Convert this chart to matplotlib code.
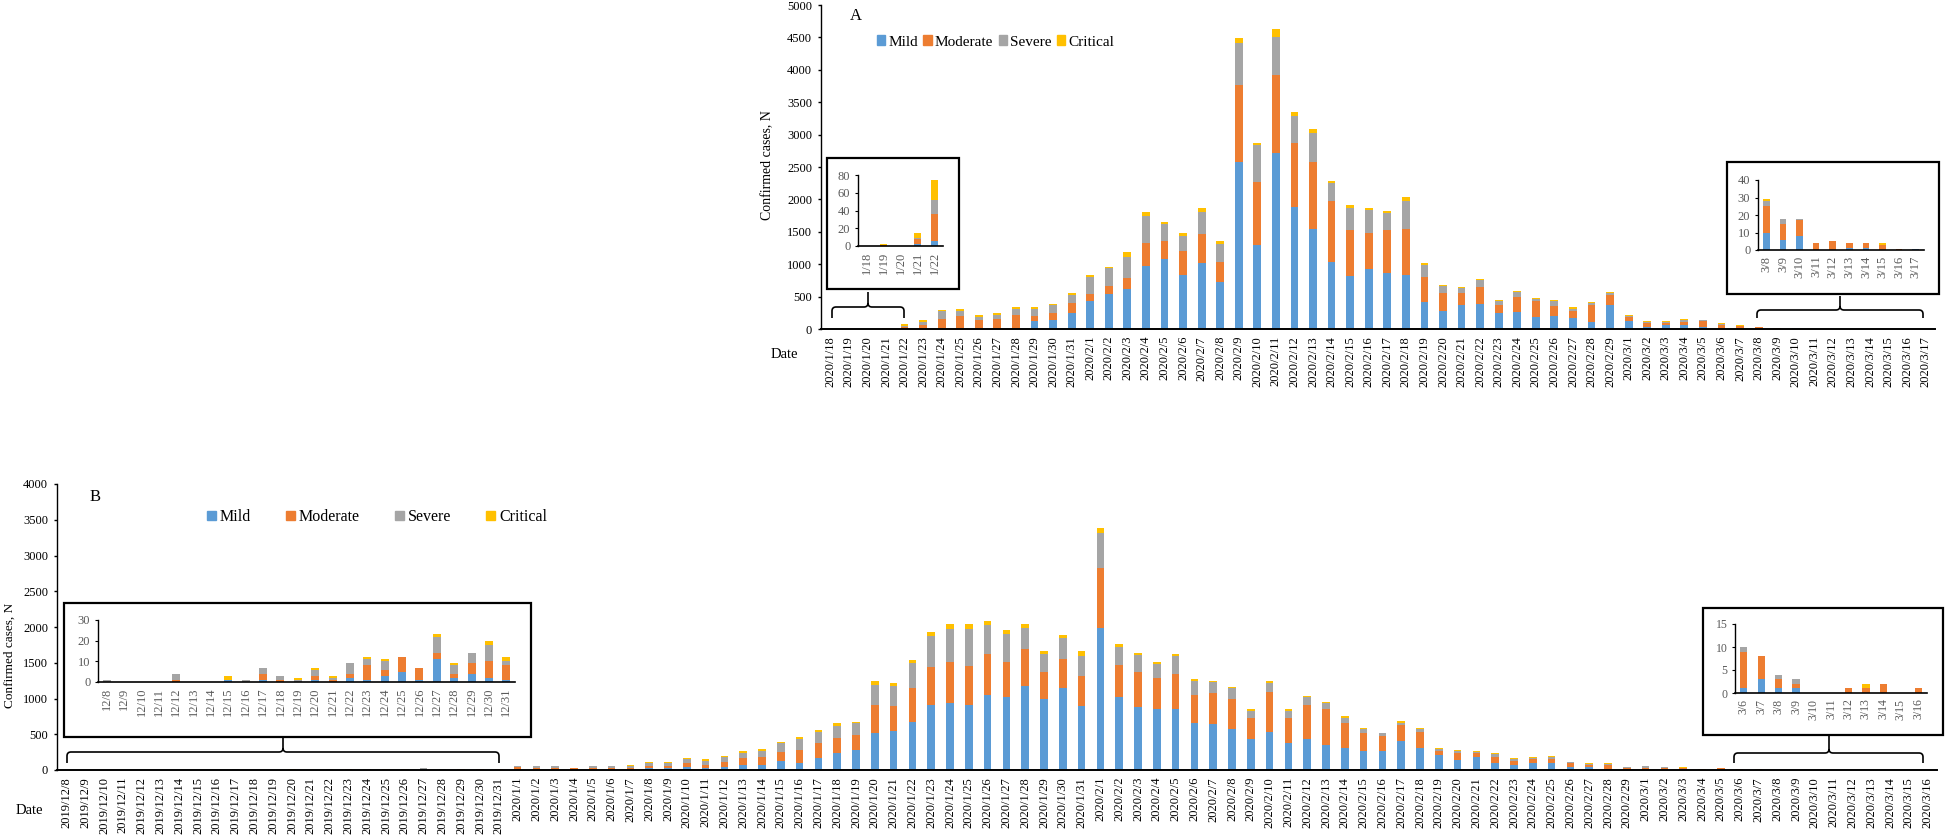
import matplotlib
matplotlib.use("Agg")
import matplotlib.pyplot as plt
import matplotlib.patches as mpatches
from matplotlib.path import Path
import pandas as pd

plt.rcParams['font.family'] = ['Liberation Serif', 'DejaVu Serif']

W, H = 1946, 839
COLORS = ['#5B9BD5', '#ED7D31', '#A5A5A5', '#FFC000']
NAMES = ['Mild', 'Moderate', 'Severe', 'Critical']
INSET_GRAY = '#595959'

# ---- panel A: 2020/1/18 - 2020/3/17 ----
dates_a = pd.date_range('2020-01-18', '2020-03-17')
labels_a = [f"{d.year}/{d.month}/{d.day}" for d in dates_a]
short_a = [f"{d.month}/{d.day}" for d in dates_a]
mild_a = [0, 0, 0, 2, 6, 5, 5, 5, 5, 5, 5, 129, 144, 247,
          437, 535, 617, 967, 1075, 828, 1013, 730, 2577, 1301, 2716, 1878, 1543, 1034, 823, 921,
          859, 838, 422, 283, 376, 391, 242, 257, 190, 206, 170, 103, 370,
          120, 31, 57, 67, 31, 15, 8, 10, 6, 8, 0, 0, 1, 1, 0, 0, 0.5]
moderate_a = [0, 1, 0, 6, 30, 62, 154, 195, 129, 149, 216, 77, 108, 149,
              98, 134, 165, 365, 283, 371, 448, 304, 1183, 973, 1204, 997, 1034, 941, 710, 566,
              669, 710, 386, 273, 174, 252, 123, 242, 242, 144, 103, 273, 155,
              60, 62, 36, 46, 98, 47, 33, 15, 9, 9, 4, 5, 3, 3, 3, 0.5, 0]
severe_a = [0, 0, 0, 1, 16, 46, 114, 78, 56, 57, 88, 108, 113, 124,
            262, 267, 334, 407, 257, 231, 339, 283, 659, 560, 581, 417, 442, 283, 329, 355,
            267, 432, 185, 113, 83, 118, 62, 67, 31, 87, 41, 30, 31,
            25, 20, 20, 31, 5, 15, 12, 3, 3, 1, 0, 0, 0, 0, 0, 0, 0]
critical_a = [0, 1, 0, 6, 22, 31, 15, 36, 26, 31, 31, 20, 16, 30,
              41, 26, 72, 61, 41, 46, 67, 41, 67, 41, 123, 62, 73, 21, 57, 30,
              21, 57, 31, 15, 15, 11, 15, 15, 15, 16, 20, 16, 20,
              6, 15, 16, 15, 10, 10, 10, 1, 0, 0, 0, 0, 0, 0, 1, 0, 0]

# ---- panel B: 2019/12/8 - 2020/3/16 ----
dates_b = pd.date_range('2019-12-08', '2020-03-16')
labels_b = [f"{d.year}/{d.month}/{d.day}" for d in dates_b]
short_b = [f"{d.month}/{d.day}" for d in dates_b]
mild_b = [0, 0, 0, 0, 0, 0, 0, 1, 0, 1, 0, 0, 1, 0, 2, 1, 3, 5, 1, 11, 2, 4, 2, 1,
          5, 5, 5, 3, 5, 5, 5, 23, 23, 37, 28, 37, 74, 74, 121, 102, 172, 237, 284,
          521, 549, 674, 907, 939, 911, 1046, 1018, 1181, 990, 1144, 902,
          1986, 1018, 884, 856, 856, 651, 637, 572, 437, 535, 372, 428, 353, 302, 260,
          270, 409, 302, 209, 144, 186, 102, 65, 98, 102, 47, 42, 19, 12,
          15, 10, 8, 3, 3, 1, 3, 1, 1, 0, 0, 0, 0, 0, 0, 0]
moderate_b = [0, 0, 0, 0, 1, 0, 0, 0, 0, 3, 1, 0, 2, 1, 2, 7, 3, 7, 6, 3, 2, 5, 8, 7,
              30, 25, 25, 20, 20, 20, 25, 28, 28, 56, 46, 75, 98, 103, 125, 182, 200, 209, 204,
              390, 353, 479, 530, 568, 549, 577, 498, 507, 386, 404, 419,
              846, 447, 488, 437, 493, 395, 433, 428, 288, 562, 353, 479, 507, 349, 261,
              209, 214, 233, 56, 98, 51, 84, 61, 60, 51, 55, 28, 46, 18,
              15, 15, 20, 14, 18, 8, 5, 2, 1, 0, 0, 1, 1, 2, 0, 1]
severe_b = [1, 0, 0, 0, 3, 0, 0, 0, 1, 3, 2, 1, 3, 1, 5, 3, 4, 0, 0, 8, 4, 5, 8, 2,
            20, 20, 20, 5, 25, 25, 28, 42, 42, 60, 56, 69, 70, 93, 126, 148, 158, 163, 163,
            279, 279, 344, 442, 465, 512, 400, 386, 298, 247, 293, 274,
            488, 256, 237, 186, 246, 196, 158, 144, 107, 121, 107, 111, 75, 74, 46,
            33, 37, 32, 28, 23, 19, 32, 32, 14, 33, 10, 18, 19, 10,
            25, 15, 5, 2, 2, 1, 0, 1, 1, 0, 0, 0, 0, 0, 0, 0]
critical_b = [0, 0, 0, 0, 0, 0, 0, 2, 0, 0, 0, 1, 1, 1, 0, 1, 1, 0, 0, 1, 1, 0, 2, 2,
              5, 5, 8, 5, 10, 6, 7, 14, 14, 14, 23, 19, 23, 23, 19, 28, 33, 42, 23,
              52, 37, 47, 51, 65, 65, 60, 56, 60, 42, 47, 70,
              61, 46, 33, 32, 28, 27, 23, 14, 19, 24, 19, 14, 18, 24, 14,
              9, 19, 14, 14, 14, 14, 14, 9, 14, 5, 3, 10, 9, 5,
              3, 5, 15, 0, 0, 0, 0, 0, 0, 0, 0, 0, 1, 0, 0, 0]


def rect(x0, y0, x1, y1):
    return [x0 / W, 1 - y1 / H, (x1 - x0) / W, (y1 - y0) / H]


def stacked(ax, series, width):
    x = range(len(series[0]))
    bottom = [0] * len(series[0])
    for vals, c in zip(series, COLORS):
        ax.bar(x, vals, width, bottom=bottom, color=c, linewidth=0)
        bottom = [b + v for b, v in zip(bottom, vals)]


def style_main(ax, labels, ymax, step):
    for s in ['top', 'right']:
        ax.spines[s].set_visible(False)
    ax.spines['left'].set_linewidth(1.0)
    ax.spines['bottom'].set_linewidth(1.4)
    ax.set_xlim(-0.5, len(labels) - 0.5)
    ax.set_ylim(0, ymax)
    ax.set_yticks(range(0, ymax + 1, step))
    ax.set_xticks(range(len(labels)))
    ax.set_xticklabels(labels, rotation=90, fontsize=9)
    ax.tick_params(axis='x', length=0, pad=5)
    ax.tick_params(axis='y', length=2.5, width=1, labelsize=9, pad=4)


def inset(box, inner, series, labels, ymax, step, width, fs=8.5):
    x0, y0, x1, y1 = box
    fig.add_artist(mpatches.Rectangle((x0 / W, 1 - y1 / H), (x1 - x0) / W, (y1 - y0) / H,
                                      transform=fig.transFigure, facecolor='white',
                                      edgecolor='black', linewidth=1.6, zorder=2))
    ax = fig.add_axes(rect(*inner), zorder=3)
    ax.patch.set_alpha(0)
    stacked(ax, series, width)
    for s in ['top', 'right']:
        ax.spines[s].set_visible(False)
    ax.spines['left'].set_linewidth(1.0)
    ax.spines['bottom'].set_linewidth(1.2)
    ax.set_xlim(-0.5, len(labels) - 0.5)
    ax.set_ylim(0, ymax)
    ax.set_yticks(range(0, ymax + 1, step))
    ax.set_xticks(range(len(labels)))
    ax.set_xticklabels(labels, rotation=90)
    ax.tick_params(axis='x', length=0, pad=4, labelsize=fs, labelcolor=INSET_GRAY)
    ax.tick_params(axis='y', length=2.5, pad=3, labelsize=fs, labelcolor=INSET_GRAY)
    return ax


def bracket(x0, x1, xm, y_end, y_line, y_tip, r=4):
    pts = [(x0, y_end), (x0, y_line + r), (x0, y_line), (x0 + r, y_line),
           (xm - r, y_line), (xm, y_line), (xm, y_line - r), (xm, y_tip),
           (xm, y_line - r), (xm, y_line), (xm + r, y_line),
           (x1 - r, y_line), (x1, y_line), (x1, y_line + r), (x1, y_end)]
    codes = [Path.MOVETO, Path.LINETO, Path.CURVE3, Path.CURVE3,
             Path.LINETO, Path.CURVE3, Path.CURVE3, Path.LINETO,
             Path.MOVETO, Path.CURVE3, Path.CURVE3,
             Path.LINETO, Path.CURVE3, Path.CURVE3, Path.LINETO]
    pts = [(px / W, 1 - py / H) for px, py in pts]
    fig.add_artist(mpatches.PathPatch(Path(pts, codes), transform=fig.transFigure,
                                      fill=False, edgecolor='black', linewidth=1.2, zorder=2))


fig = plt.figure(figsize=(W / 100, H / 100), dpi=100)

series_a = [mild_a, moderate_a, severe_a, critical_a]
series_b = [mild_b, moderate_b, severe_b, critical_b]

# panel A
ax_a = fig.add_axes(rect(821, 5, 1935, 329))
stacked(ax_a, series_a, 0.42)
style_main(ax_a, labels_a, 5000, 500)

inset((827, 158, 959, 289), (858, 175, 943, 246),
      [s[0:5] for s in series_a], short_a[0:5], 80, 20, 0.36, fs=9)
inset((1727, 162, 1939, 294), (1758, 180, 1924, 250),
      [s[50:60] for s in series_a], short_a[50:60], 40, 10, 0.4, fs=9)
bracket(832, 904, 868, 318, 307, 292)
bracket(1757, 1923, 1840, 318, 310, 296)

fig.text(856 / W, 1 - 16 / H, 'A', fontsize=12, ha='center', va='center')
fig.text(768 / W, 1 - 165 / H, 'Confirmed cases, N', fontsize=10, rotation=90,
         ha='center', va='center')
fig.text(784 / W, 1 - 355 / H, 'Date', fontsize=10.5, ha='center', va='center')

handles = [mpatches.Patch(color=c, label=n) for c, n in zip(COLORS, NAMES)]
fig.legend(handles=handles, loc='center left', bbox_to_anchor=(877 / W, 1 - 42 / H),
           ncol=4, frameon=False, fontsize=11, handlelength=0.55, handleheight=0.55,
           handletextpad=0.2, columnspacing=0.35, borderpad=0, borderaxespad=0)

# panel B
ax_b = fig.add_axes(rect(57, 484, 1937, 770))
stacked(ax_b, series_b, 0.4)
style_main(ax_b, labels_b, 4000, 500)

inset((64, 603, 531, 737), (98, 620, 515, 682),
      [s[0:24] for s in series_b], short_b[0:24], 30, 10, 0.46, fs=9)
inset((1703, 608, 1943, 735), (1735, 624, 1927, 693),
      [s[89:100] for s in series_b], short_b[89:100], 15, 5, 0.42)
bracket(67, 499, 283, 763, 752, 737)
bracket(1734, 1923, 1829, 763, 753, 735)

fig.text(95 / W, 1 - 497 / H, 'B', fontsize=12, ha='center', va='center')
fig.text(10 / W, 1 - 655 / H, 'Confirmed cases, N', fontsize=9.5, rotation=90,
         ha='center', va='center')
fig.text(29 / W, 1 - 811 / H, 'Date', fontsize=10.5, ha='center', va='center')

fig.legend(handles=handles, loc='center left', bbox_to_anchor=(207 / W, 1 - 517 / H),
           ncol=4, frameon=False, fontsize=11.5, handlelength=0.55, handleheight=0.55,
           handletextpad=0.25, columnspacing=2.2, borderpad=0, borderaxespad=0)

fig.savefig('out.png', dpi=100)
